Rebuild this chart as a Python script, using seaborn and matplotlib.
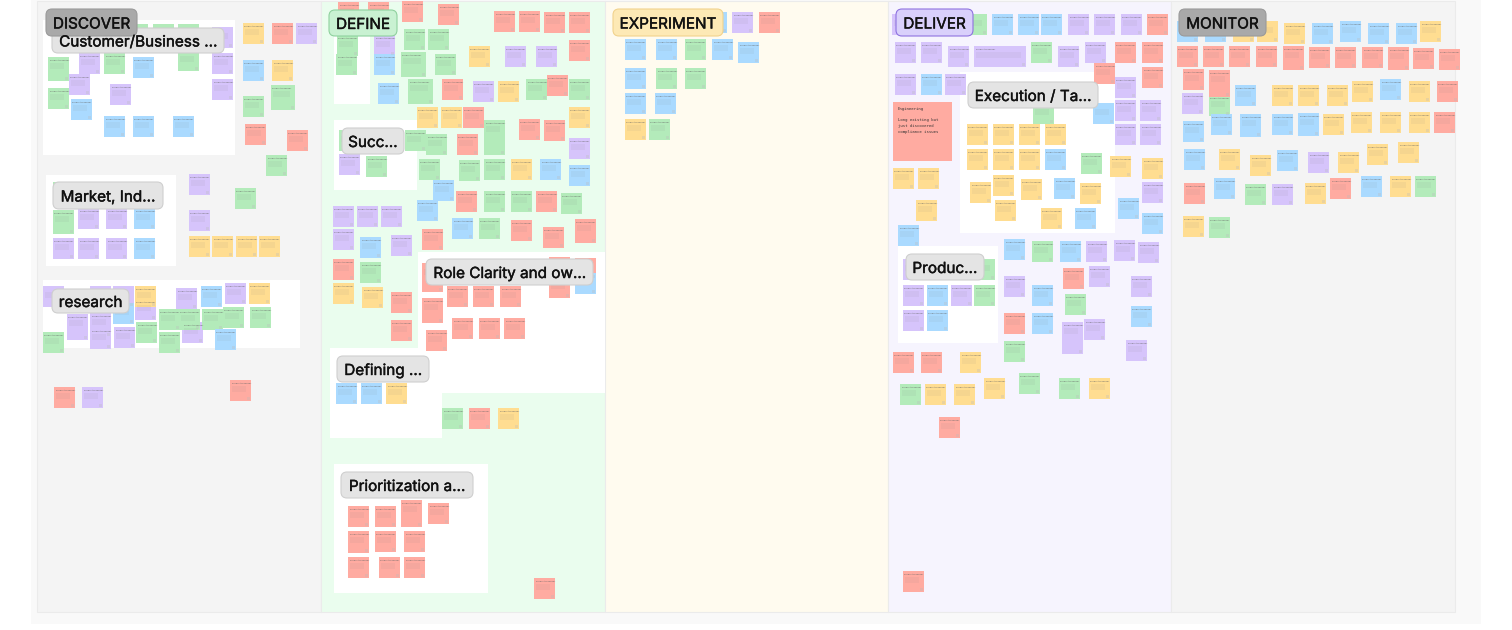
import matplotlib
matplotlib.use('Agg')
import matplotlib.pyplot as plt
from matplotlib.patches import FancyBboxPatch, Rectangle
import matplotlib.patheffects as pe
import pandas as pd
import seaborn as sns

sns.set_theme(style='white')
plt.rcParams['font.family'] = ['Inter', 'DejaVu Sans']

columns = ['DISCOVER', 'DEFINE', 'EXPERIMENT', 'DELIVER', 'MONITOR']
column_edges = [37, 321, 605, 888, 1171, 1455]
column_fill = ['#f4f4f4', '#eafdee', '#fffbef', '#f6f4fe', '#f4f4f4']

# x0, y0, x1, y1
sections = [
    (43, 20, 235, 155), (46, 175, 176, 266), (43, 280, 300, 348),
    (334, 20, 370, 104), (334, 120, 417, 190), (418, 252, 605, 393),
    (330, 348, 442, 438), (334, 464, 488, 593), (960, 72, 1115, 233),
    (898, 246, 998, 343),
]

red = [
    (272, 23), (245, 124), (287, 130), (54, 387), (230, 380),
    (338, 2), (368, 2), (402, 1), (438, 4), (494, 11), (519, 11), (544, 12), (569, 12), (569, 40),
    (442, 79), (547, 75), (463, 107), (519, 119), (544, 120), (457, 134), (456, 191), (536, 191),
    (511, 220), (543, 227), (422, 229), (333, 259), (391, 292), (391, 320),
    (549, 257), (575, 258), (549, 277), (447, 286), (473, 286), (500, 286),
    (452, 318), (479, 318), (504, 318), (426, 330), (469, 408),
    (348, 506), (375, 506), (428, 503), (375, 531), (404, 531), (348, 557), (379, 557), (404, 557), (534, 578),
    (759, 12), (1147, 14), (1115, 42), (1142, 42), (1094, 63), (1142, 67),
    (1063, 268), (1004, 313), (893, 352), (921, 352), (939, 417), (903, 571),
    (1177, 46), (1203, 46), (1229, 46), (1256, 46), (1309, 47), (1335, 47), (1362, 47), (1413, 48), (1439, 49),
    (1183, 69), (1437, 81), (1434, 112), (1184, 183), (1330, 178),
]
purple = [
    (212, 27), (79, 53), (69, 74), (212, 53), (212, 79), (110, 84), (296, 23), (189, 174),
    (78, 208), (106, 208), (78, 238), (53, 238), (106, 238), (189, 210),
    (43, 286), (90, 286), (113, 286), (135, 299), (90, 328), (114, 327), (176, 288), (182, 322), (225, 283), (82, 387),
    (374, 35), (505, 46), (536, 46), (473, 81), (569, 138), (339, 154),
    (333, 206), (357, 206), (381, 206), (333, 229), (391, 235), (732, 12),
    (892, 14), (1068, 14), (1094, 14), (1121, 14), (895, 42), (921, 42), (948, 46), (1058, 46), (1085, 42),
    (1115, 77), (895, 74), (945, 74), (1115, 100), (1140, 100), (1115, 124), (1140, 124), (1142, 182),
    (1086, 241), (1114, 240), (1138, 242), (903, 259), (903, 285), (951, 285), (903, 310),
    (1004, 276), (1089, 266), (1131, 276), (1084, 319), (1126, 340),
    (1182, 93), (1308, 152), (1272, 184),
]
green = [
    (127, 24), (153, 24), (178, 24), (104, 53), (178, 50), (48, 88), (243, 96), (266, 155), (235, 188), (53, 182),
    (43, 332), (136, 322), (159, 309), (159, 332), (179, 309), (202, 309), (223, 307), (250, 307),
    (337, 35), (404, 29), (428, 29), (336, 54), (435, 54), (526, 79), (569, 79), (426, 134), (419, 159), (459, 160),
    (484, 159), (339, 130), (405, 130), (366, 156), (484, 191), (511, 191), (561, 193),
    (479, 218), (360, 262), (442, 408),
    (685, 39), (656, 68), (685, 68), (649, 119),
    (966, 14), (1031, 42), (1033, 103), (1081, 153), (1032, 241), (974, 259), (974, 285), (1065, 294), (1004, 341),
    (900, 384), (1019, 373), (1059, 378),
    (1209, 95), (1245, 184), (1415, 176), (1209, 217),
]
blue = [
    (133, 57), (71, 99), (104, 116), (133, 116), (173, 116), (243, 60), (134, 208), (134, 238),
    (113, 303), (201, 286), (215, 329),
    (374, 54), (378, 83), (540, 159), (569, 165), (433, 180), (417, 200), (360, 237), (452, 218), (575, 273),
    (336, 383), (361, 383),
    (706, 12), (625, 39), (656, 39), (712, 39), (738, 42), (625, 68), (625, 93), (655, 93),
    (992, 14), (1018, 14), (1041, 14), (921, 74), (1093, 103), (1045, 149), (1054, 178), (1075, 208), (1118, 198),
    (1142, 213), (898, 225), (1004, 239), (1060, 241), (927, 285), (1032, 285), (1131, 306), (927, 310), (1032, 313),
    (1177, 21), (1205, 21), (1312, 23), (1340, 21), (1368, 23), (1396, 23), (1235, 85), (1380, 79),
    (1183, 121), (1211, 114), (1272, 114), (1184, 149), (1277, 150), (1214, 178), (1361, 176),
]
yellow = [
    (243, 23), (272, 60), (189, 236), (212, 236), (236, 236), (259, 236), (135, 286), (249, 283),
    (469, 46), (498, 81), (417, 107), (441, 107), (569, 107), (511, 159), (333, 283), (362, 287), (386, 383), (498, 408),
    (625, 119),
    (967, 124), (993, 124), (1019, 124), (1045, 124), (967, 149), (993, 149), (1019, 149), (1110, 156), (1142, 158),
    (893, 168), (918, 168), (916, 200), (970, 182), (993, 175), (1021, 179), (1080, 183), (995, 200), (1041, 208),
    (960, 352), (925, 384), (954, 384), (984, 378), (1089, 378),
    (1233, 21), (1257, 21), (1284, 23), (1420, 21), (1272, 85), (1298, 85), (1327, 85), (1352, 81), (1409, 81),
    (1323, 114), (1351, 112), (1380, 112), (1409, 112), (1219, 149), (1250, 155), (1338, 152), (1367, 144), (1398, 142),
    (1305, 183), (1390, 176), (1183, 216),
]
note_colour = {'red': '#ffaba1', 'purple': '#d6c4fb', 'green': '#b3ebba', 'blue': '#aadaff', 'yellow': '#ffdd91'}

# notes that are not the standard square: x, y, w, h, colour
odd_notes = [
    (48, 57, 21, 24, 'green'), (271, 85, 24, 25, 'green'), (53, 210, 21, 24, 'green'),
    (67, 314, 21, 26, 'purple'), (90, 313, 21, 24, 'purple'),
    (401, 52, 25, 25, 'green'), (408, 79, 25, 25, 'green'), (484, 120, 21, 35, 'green'),
    (575, 219, 21, 24, 'red'), (422, 263, 21, 29, 'red'), (422, 298, 21, 25, 'red'),
    (401, 500, 21, 27, 'red'), (348, 531, 21, 22, 'red'),
    (974, 46, 52, 21, 'purple'), (1062, 322, 21, 32, 'purple'),
    (1283, 46, 21, 24, 'red'), (1388, 47, 21, 23, 'red'), (1209, 70, 21, 27, 'red'),
    (1240, 114, 21, 23, 'blue'), (1298, 113, 21, 23, 'blue'),
]

big_note = (893, 102, 59, 59)
big_note_text = 'Engineering\n\nLong existing but\njust discovered\ncompliance issues'

# label, x0, y0, x1, y1, fill, edge
pills = [
    ('Customer/Business ...', 52, 28, 224, 53, '#e4e4e4', '#cfcfcf'),
    ('Market, Ind...', 53, 182, 163, 209, '#e4e4e4', '#cfcfcf'),
    ('research', 52, 289, 129, 313, '#e4e4e4', '#cfcfcf'),
    ('Succ...', 342, 128, 404, 154, '#e4e4e4', '#cfcfcf'),
    ('Role Clarity and ow...', 426, 259, 593, 285, '#e4e4e4', '#cfcfcf'),
    ('Defining ...', 337, 356, 429, 382, '#e4e4e4', '#cfcfcf'),
    ('Prioritization a...', 341, 472, 473, 498, '#e4e4e4', '#cfcfcf'),
    ('Execution / Ta...', 968, 82, 1098, 108, '#e4e4e4', '#cfcfcf'),
    ('Produc...', 906, 254, 984, 280, '#e4e4e4', '#cfcfcf'),
    ('DISCOVER', 46, 9, 137, 36, '#a9a9a9', '#9a9a9a'),
    ('DEFINE', 329, 10, 397, 36, '#c9f1d2', '#8fd19e'),
    ('EXPERIMENT', 613, 9, 723, 36, '#fde9b5', '#f1d38d'),
    ('DELIVER', 896, 9, 973, 36, '#d9d0fb', '#8e72e0'),
    ('MONITOR', 1179, 9, 1266, 36, '#a9a9a9', '#9a9a9a'),
]


def under_pill(x, y):
    for _, x0, y0, x1, y1, _, _ in pills:
        if x0 - 18 < x < x1 and y0 - 2 < y < y1 + 2:
            return True
    return False


def note_detail(x, y, w, h):
    # header, a few body lines and the little avatar in the corner
    if not under_pill(x, y + 3):
        ax.text(x + 1.5, y + 3, 'Product Manager', fontsize=1.7, color='#666666', va='center', zorder=4)
    ax.hlines([y + 6.5, y + 8.5, y + 10.5], x + 1.5, x + w - 5, color='#777777', alpha=0.35, lw=0.3, zorder=4)
    ax.add_patch(Rectangle((x + w - 4, y + h - 4), 3, 3, fc='#bbbbbb', alpha=0.3, ec='none', zorder=4))


rows = []
for name, notes in [('red', red), ('purple', purple), ('green', green), ('blue', blue), ('yellow', yellow)]:
    rows += [(x + 10.5, y + 10.5, name) for x, y in notes]
data = pd.DataFrame(rows, columns=['x', 'y', 'colour'])

fig, ax = plt.subplots(figsize=(15.12, 6.3), dpi=100)
fig.patch.set_facecolor('white')
ax.set_position([0, 0, 1, 1])
ax.set_axis_off()

ax.add_patch(Rectangle((31, 0), 1450, 624, fc='#f9f9f9', ec='none', zorder=0))
for k in range(len(columns)):
    ax.add_patch(Rectangle((column_edges[k], 1), column_edges[k + 1] - column_edges[k], 611,
                           fc=column_fill[k], ec='#ebebeb', lw=0.8, zorder=1))
for x0, y0, x1, y1 in sections:
    ax.add_patch(Rectangle((x0, y0), x1 - x0, y1 - y0, fc='white', ec='none', zorder=2))

# 21 px square = 15.1 pt
sns.scatterplot(data=data, x='x', y='y', hue='colour', palette=note_colour, marker='s', s=228,
                linewidth=0, legend=False, ax=ax, zorder=3)
ax.set_xlim(0, 1512)
ax.set_ylim(630, 0)

for x, y, w, h, name in odd_notes:
    ax.add_patch(Rectangle((x, y), w, h, fc=note_colour[name], ec='none', zorder=3))
    note_detail(x, y, w, h)
for x, y, name in rows:
    note_detail(x - 10.5, y - 10.5, 21, 21)

x, y, w, h = big_note
ax.add_patch(Rectangle((x, y), w, h, fc=note_colour['red'], ec='none', zorder=3))
ax.text(x + 5, y + 5, big_note_text, fontsize=2.85, family='DejaVu Sans Mono', color='#333333',
        va='top', linespacing=1.55, zorder=4)

for label, x0, y0, x1, y1, fill, edge in pills:
    ax.add_patch(FancyBboxPatch((x0 + 5, y0 + 5), x1 - x0 - 10, y1 - y0 - 10, boxstyle='round,pad=5,rounding_size=6',
                                fc=fill, ec=edge, lw=0.8, zorder=5))
    ax.text((x0 + x1) / 2, (y0 + y1) / 2 + 1.5, label, fontsize=11, color='#111111', ha='center', va='center',
            zorder=6, path_effects=[pe.withStroke(linewidth=0.3, foreground='#111111')])

fig.savefig('out.png', dpi=100)
